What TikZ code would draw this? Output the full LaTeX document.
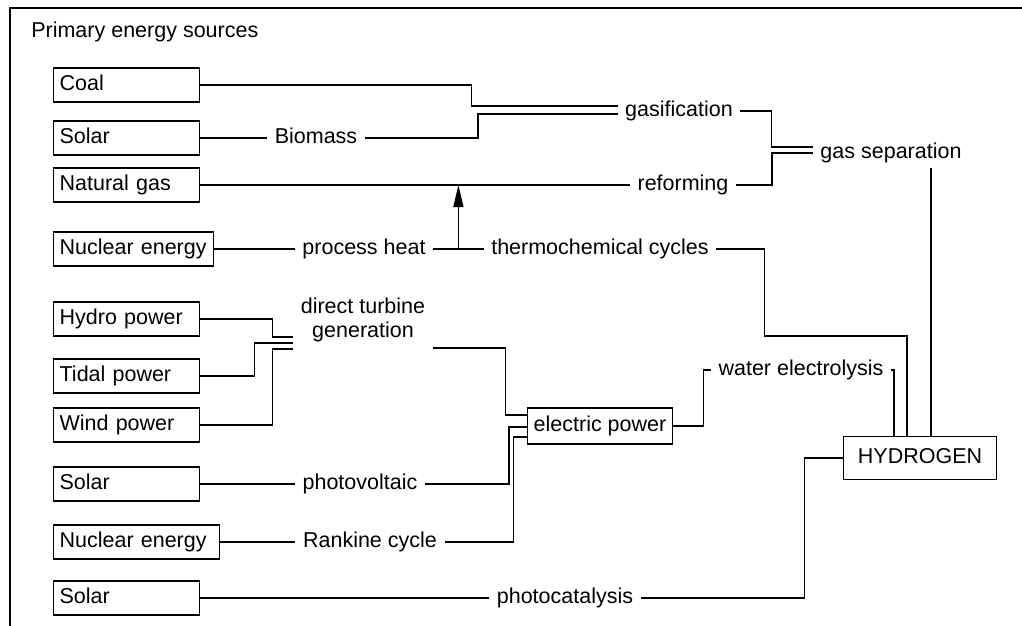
\documentclass[tikz,border=0pt]{standalone}
\usepackage{fontspec}
\setmainfont{Liberation Sans}
\usetikzlibrary{arrows.meta,calc}
\tikzstyle{chart} = [x=0.5pt, y=-0.5pt, line width=0.65pt, every node/.style={font=\fontsize{10.75}{12}\selectfont}]
\tikzstyle{sourceStyle} = [draw, anchor=west, minimum height=16pt, inner xsep=3pt, text height=8pt, text depth=2.3pt, align=left]
\tikzstyle{stageText} = [inner xsep=3.5pt, inner ysep=2pt, text height=8pt, text depth=2.3pt, align=center]
\tikzstyle{carrierStyle} = [draw, inner sep=0pt, text height=8pt, text depth=2.3pt]
\tikzstyle{frameLine} = [line width=0.9pt]
\tikzstyle{heatArrow} = [-{Triangle[length=11pt,width=5pt]}]
\newcommand{\energySource}[4][67pt]{\node [sourceStyle, text width=#1] (#2) at (53,#3) {#4};}

\begin{document}
\begin{tikzpicture}[chart]
    \useasboundingbox (0,0) rectangle (1022,626);
    \draw [frameLine] (10,626) -- (10,8) -- (1022,8);
    \node [anchor=west] (title) at (24,32) {Primary energy sources};
    % primary sources
    \energySource{coal}{85}{Coal}
    \energySource{solarA}{138}{Solar}
    \energySource{natGas}{185}{Natural gas}
    \energySource[74pt]{nuclearA}{249}{Nuclear energy}
    \energySource{hydro}{319}{Hydro power}
    \energySource{tidal}{376}{Tidal power}
    \energySource{wind}{425}{Wind power}
    \energySource{solarB}{484}{Solar}
    \energySource[77pt]{nuclearB}{542}{Nuclear energy}
    \energySource{solarC}{598}{Solar}
    % conversion steps
    \node [stageText] (biomass) at (316,138) {Biomass};
    \node [stageText] (gasif) at (679,111) {gasification};
    \node [stageText] (reform) at (683,185) {reforming};
    \node [stageText] (gasSep) at (891,153) {gas separation};
    \node [stageText] (procHeat) at (364,249) {process heat};
    \node [stageText] (thermo) at (600,249) {thermochemical cycles};
    \node [stageText, text depth=14.3pt] (turbine) at (363,344) {direct turbine\\generation};
    \node [stageText] (photoVolt) at (360,484) {photovoltaic};
    \node [stageText] (rankine) at (370,542) {Rankine cycle};
    \node [stageText] (photoCat) at (565,598) {photocatalysis};
    \node [stageText] (electrolysis) at (801,370) {water electrolysis};
    \node [carrierStyle, minimum width=72.5pt, minimum height=18pt] (elec) at (600,426) {electric power};
    \node [carrierStyle, minimum width=76.5pt, minimum height=21.5pt] (hydrogen) at (920,458) {HYDROGEN};
    % fossil and biomass routes
    \draw (coal.east) -- ++(271,0) |- ([yshift=2.5pt]gasif.west);
    \draw (solarA.east) -- (biomass.west);
    \draw (biomass.east) -- ++(113,0) |- ([yshift=-1.5pt]gasif.west);
    \draw (natGas.east) -- (reform.west);
    \draw (gasif.east) -- ++(31,0) |- ([yshift=3pt]gasSep.west);
    \draw (reform.east) -- ++(36,0) |- (gasSep.west);
    \draw ([xshift=20pt]gasSep.south) coordinate (sepDrop) -- (sepDrop |- hydrogen.north);
    % nuclear heat
    \draw (nuclearA.east) -- (procHeat.west);
    \draw (procHeat.east) -- (thermo.west);
    \coordinate (heatFork) at ($(procHeat.east)!0.5!(thermo.west)$);
    \draw [heatArrow] (heatFork) -- (heatFork |- natGas.east);
    \draw (thermo.east) -- ++(48,0) -- ++(0,87) -| ([xshift=-6.5pt]hydrogen.north);
    % electricity routes
    \draw (hydro.east) -- ++(72,0) |- ([yshift=3.5pt]turbine.west);
    \draw (tidal.east) -- ++(54,0) |- ([yshift=0.5pt]turbine.west);
    \draw (wind.east) -- ++(72,0) |- ([yshift=-2.5pt]turbine.west);
    \draw ([yshift=-2pt]turbine.east) -- ++(73,0) |- ([yshift=5.5pt]elec.west);
    \draw (solarB.east) -- (photoVolt.west);
    \draw (photoVolt.east) -- ++(84,0) |- ([yshift=-0.5pt]elec.west);
    \draw (nuclearB.east) -- (rankine.west);
    \draw (rankine.east) -- ++(69,0) |- ([yshift=-5.5pt]elec.west);
    \draw (elec.east) -- ++(30,0) |- (electrolysis.west);
    \draw (electrolysis.east) -| ([xshift=-13pt]hydrogen.north);
    \draw (solarC.east) -- (photoCat.west);
    \draw (photoCat.east) -- ++(164,0) |- (hydrogen.west);
\end{tikzpicture}
\end{document}
